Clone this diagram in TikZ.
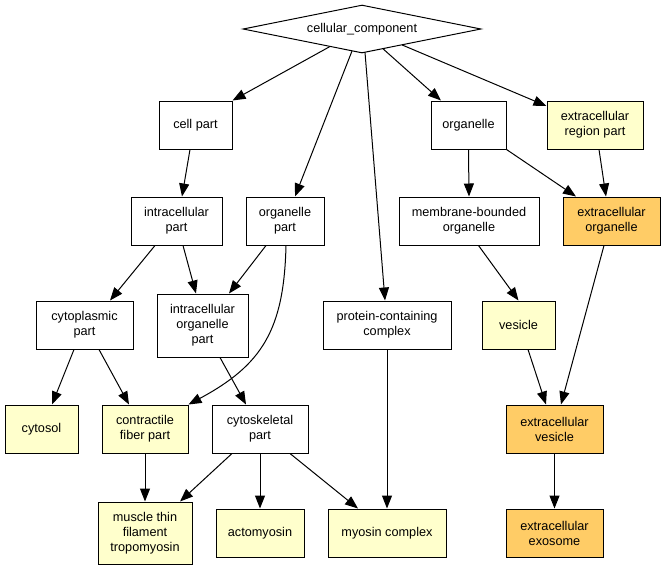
\documentclass[tikz,border=0pt]{standalone}
\usepackage{fontspec}
\setmainfont{Liberation Sans}
\usetikzlibrary{shapes.geometric,arrows.meta}
\definecolor{paleyellow}{HTML}{FFFFCC}
\definecolor{amber}{HTML}{FFCC66}
\begin{document}
\begin{tikzpicture}[x=1pt,y=-1pt,
  every node/.style={font=\fontsize{12.7}{15}\selectfont, align=center, inner sep=0pt},
  term/.style={draw=black, line width=1pt, rectangle, minimum height=48pt},
  plain/.style={term, fill=white},
  hit/.style={term, fill=paleyellow},
  core/.style={term, fill=amber},
  rel/.style={draw=black, line width=1pt, -{Triangle[length=13pt,width=10pt]}}]
\useasboundingbox (0,0) rectangle (661,571);

% root
\node[draw=black, line width=1pt, fill=white, diamond, aspect=5,
      minimum width=238pt, minimum height=48pt] (cc) at (362,29) {cellular\_component};

% row 1
\node[plain, minimum width=73pt] (cellpart) at (195.5,125) {cell part};
\node[plain, minimum width=75pt] (organelle) at (468.5,125) {organelle};
\node[hit, minimum width=96pt] (ecregion) at (595,125) {extracellular\\region part};

% row 2
\node[plain, minimum width=91pt] (intracell) at (176.5,221) {intracellular\\part};
\node[plain, minimum width=78pt] (orgpart) at (285,221) {organelle\\part};
\node[plain, minimum width=140pt] (membrane) at (469,221) {membrane-bounded\\organelle};
\node[core, minimum width=97pt] (ecorganelle) at (611.5,221) {extracellular\\organelle};

% row 3
\node[plain, minimum width=97pt] (cytoplasmic) at (84.5,325) {cytoplasmic\\part};
\node[plain, minimum width=91pt, minimum height=63pt] (intraorg) at (202.5,325.5) {intracellular\\organelle\\part};
\node[plain, minimum width=128pt] (protein) at (387,325) {protein-containing\\complex};
\node[hit, minimum width=73pt] (vesicle) at (518.5,325) {vesicle};

% row 4
\node[hit, minimum width=73pt] (cytosol) at (41.5,429) {cytosol};
\node[hit, minimum width=86pt] (contractile) at (145,429) {contractile\\fiber part};
\node[plain, minimum width=96pt] (cytoskeletal) at (260,429) {cytoskeletal\\part};
\node[core, minimum width=97pt] (ecvesicle) at (554.5,429) {extracellular\\vesicle};

% row 5
\node[hit, minimum width=94pt, minimum height=62pt] (muscle) at (145,533) {muscle thin\\filament\\tropomyosin};
\node[hit, minimum width=88pt] (actomyosin) at (260,533) {actomyosin};
\node[hit, minimum width=118pt] (myosin) at (387,533) {myosin complex};
\node[core, minimum width=97pt] (exosome) at (554.5,533) {extracellular\\exosome};

% relations from the root
\draw[rel] ([shift={(-32,17.5)}]cc.center) -- (cellpart.north east);
\draw[rel] ([shift={(-10,22)}]cc.center) -- ([xshift=10pt]orgpart.north);
\draw[rel] ([shift={(3,23.4)}]cc.center) -- ([xshift=-2pt]protein.north);
\draw[rel] ([shift={(21,19.8)}]cc.center) -- ([xshift=-27.5pt]organelle.north);
\draw[rel] ([shift={(40,15.9)}]cc.center) -- ([yshift=19pt]ecregion.west);

% second level
\draw[rel] ([xshift=-5.5pt]cellpart.south) -- ([xshift=5.5pt]intracell.north);
\draw[rel] (organelle.south) -- (membrane.north);
\draw[rel] (organelle.south east) -- ([xshift=-35.5pt]ecorganelle.north);
\draw[rel] ([xshift=4pt]ecregion.south) -- ([xshift=-5.5pt]ecorganelle.north);

% third level
\draw[rel] ([xshift=-21.5pt]intracell.south) -- ([xshift=25.5pt]cytoplasmic.north);
\draw[rel] ([xshift=6.5pt]intracell.south) -- ([xshift=-6.5pt]intraorg.north);
\draw[rel] ([xshift=-19pt]orgpart.south) -- ([xshift=26.5pt]intraorg.north);
\draw[rel] ([xshift=1pt]orgpart.south) .. controls (284,330) and (262,365) .. (contractile.north east);
\draw[rel] ([xshift=9.5pt]membrane.south) -- (vesicle.north);

% fourth level
\draw[rel] ([xshift=17.5pt]intraorg.south) -- ([xshift=-14pt]cytoskeletal.north);
\draw[rel] ([xshift=-10.5pt]cytoplasmic.south) -- ([xshift=10.5pt]cytosol.north);
\draw[rel] ([xshift=14.5pt]cytoplasmic.south) -- ([xshift=-16pt]contractile.north);
\draw[rel] (protein.south) -- (myosin.north);
\draw[rel] ([xshift=9.5pt]vesicle.south) -- ([xshift=-8.5pt]ecvesicle.north);
\draw[rel] ([xshift=-7.5pt]ecorganelle.south) -- ([xshift=6.5pt]ecvesicle.north);

% leaves
\draw[rel] (contractile.south) -- (muscle.north);
\draw[rel] ([xshift=-28pt]cytoskeletal.south) -- ([xshift=35pt]muscle.north);
\draw[rel] (cytoskeletal.south) -- (actomyosin.north);
\draw[rel] ([xshift=30pt]cytoskeletal.south) -- ([xshift=-29pt]myosin.north);
\draw[rel] (ecvesicle.south) -- (exosome.north);
\end{tikzpicture}
\end{document}
